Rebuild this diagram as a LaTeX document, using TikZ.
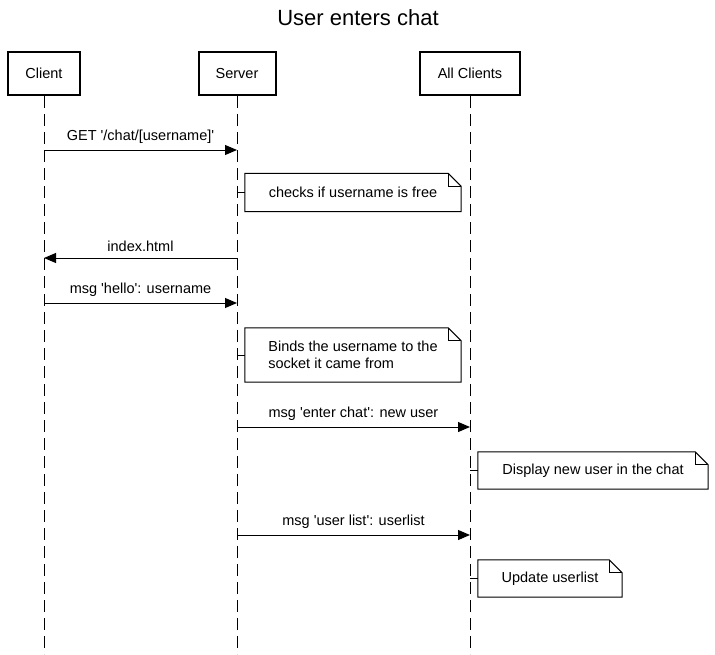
\documentclass[tikz,border=0pt]{standalone}
\usepackage{fontspec}
\setmainfont{Liberation Sans}[Ligatures=TeXOff]
\usetikzlibrary{arrows.meta}
\begin{document}
\begin{tikzpicture}[x=1pt,y=-1pt,
  every node/.style={font=\fontsize{14.5}{17.5}\selectfont, inner sep=0pt},
  actor/.style={draw, line width=2pt, minimum height=43pt, fill=white},
  lifeline/.style={line width=1pt, dash pattern=on 12pt off 6pt},
  msg/.style={line width=1pt, -{Triangle[length=12pt,width=10pt]}},
  lbl/.style={anchor=base},
  notebox/.style={align=center},
  notelink/.style={line width=1pt},
]
\useasboundingbox (0,0) rectangle (715,654);

% title
\node[font=\fontsize{22}{26}\selectfont] (title) at (358,18) {User enters chat};

% participants
\node[actor, minimum width=72pt] (cl) at (44,73.5) {Client};
\node[actor, minimum width=77pt] (sv) at (237,73.5) {Server};
\node[actor, minimum width=100pt] (ac) at (470,73.5) {All Clients};

% lifelines
\coordinate (bottom) at (0,654);
\draw[lifeline] (cl.south) -- (cl |- bottom);
\draw[lifeline] (sv.south) -- (sv |- bottom);
\draw[lifeline] (ac.south) -- (ac |- bottom);

% message rows
\coordinate (m1) at (0,150);
\coordinate (m2) at (0,258);
\coordinate (m3) at (0,303);
\coordinate (m4) at (0,427);
\coordinate (m5) at (0,535);

\draw[msg] (cl |- m1) -- node[lbl, above=6pt] {GET '/chat/[username]'} (sv |- m1);
\draw[msg] (sv |- m2) -- node[lbl, above=6pt] {index.html} (cl |- m2);
\draw[msg] (cl |- m3) -- node[lbl, above=6pt] {msg 'hello': username} (sv |- m3);
\draw[msg] (sv |- m4) -- node[lbl, above=6pt] {msg 'enter chat': new user} (ac |- m4);
\draw[msg] (sv |- m5) -- node[lbl, above=6pt] {msg 'user list': userlist} (ac |- m5);

% notes with folded corner
\newcommand{\foldednote}[1]{%
  \draw[line width=1pt, fill=white, line join=miter]
    (#1.south west) -- (#1.north west) -- ([xshift=-13pt]#1.north east)
    -- ([yshift=-13pt]#1.north east) -- (#1.south east) -- cycle;
  \draw[line width=1pt] ([xshift=-13pt]#1.north east) -- ([xshift=-13pt,yshift=-13pt]#1.north east)
    -- ([yshift=-13pt]#1.north east);
}

\node[notebox, minimum width=216pt, minimum height=38pt] (n1) at (353,192.5) {};
\foldednote{n1}
\node at (n1) {checks if username is free};
\draw[notelink] (sv |- n1.west) -- (n1.west);

\node[notebox, minimum width=216pt, minimum height=54pt] (n2) at (353,355) {};
\foldednote{n2}
\node[align=left] at (n2) {Binds the username to the\\socket it came from};
\draw[notelink] (sv |- n2.west) -- (n2.west);

\node[notebox, minimum width=230pt, minimum height=37pt] (n3) at (593,470.5) {};
\foldednote{n3}
\node at (n3) {Display new user in the chat};
\draw[notelink] (ac |- n3.west) -- (n3.west);

\node[notebox, minimum width=144pt, minimum height=37pt] (n4) at (550,578.5) {};
\foldednote{n4}
\node at (n4) {Update userlist};
\draw[notelink] (ac |- n4.west) -- (n4.west);
\end{tikzpicture}
\end{document}
